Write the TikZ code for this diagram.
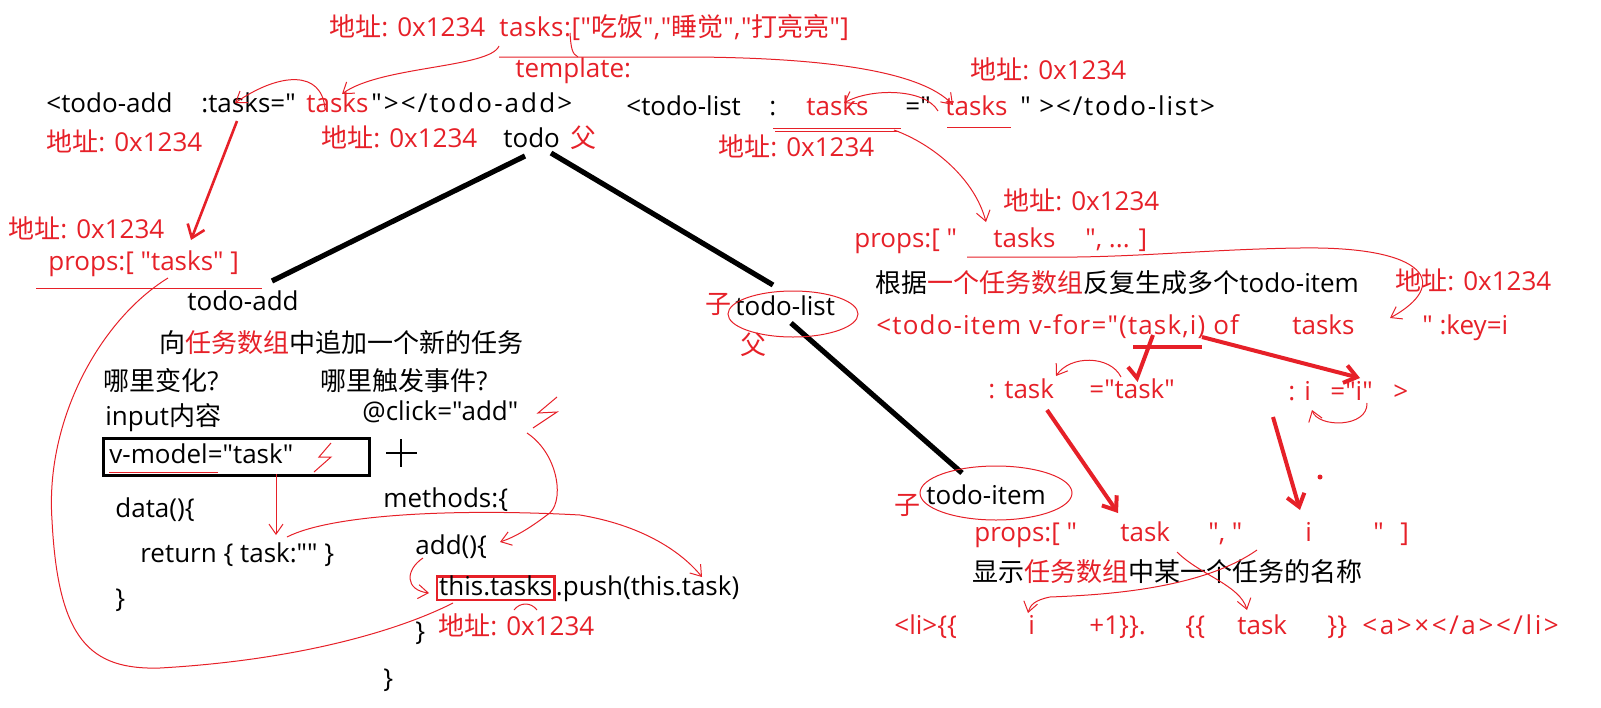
\documentclass[tikz,border=0pt]{standalone}
\usepackage{fontspec}
\setmainfont{Open Sans}[Ligatures=TeXOff]
\newfontfamily\cjk{Noto Sans CJK SC}[Ligatures=TeXOff]
\usetikzlibrary{arrows.meta,calc}

\definecolor{memred}{RGB}{230,32,40}
\newcommand\addrtxt{{\cjk 地址}: 0x1234}
\newcommand\spaced[1]{\addfontfeature{LetterSpace=#1}}

\begin{document}
\begin{tikzpicture}[x=0.5pt, y=-0.5pt,
  txt/.style={anchor=west, inner sep=0pt, text height=0.85em, text depth=0.12em,
              font=\fontsize{13pt}{15pt}\selectfont},
  rtxt/.style={txt, text=memred},
  addr/.style={rtxt},
  scribble/.style={draw=memred, line width=0.5pt},
  link/.style={scribble, -{Straight Barb[length=5pt, width=7pt]}},
  hotarrow/.style={draw=memred, line width=2pt, -{Straight Barb[length=6pt, width=9pt]}},
  treeline/.style={line width=2.6pt, black}
]
\useasboundingbox (0,0) rectangle (1601,707);

% top: the parent data
\node[addr] (addrTop)  at (329,29)  {\addrtxt};
\node[rtxt] (tasksArr) at (499,29)  {\spaced{2}tasks:["{\cjk 吃饭}","{\cjk 睡觉}","{\cjk 打亮亮}"]};
\node[rtxt] (tmpl)     at (515,70)  {template:};

\node[txt]  (addOpen)  at (46,105)  {<todo-add};
\node[txt]  (addProp)  at (201,105) {:tasks="};
\node[rtxt] (addVal)   at (306,105) {tasks};
\node[txt]  (addClose) at (371,105) {\spaced{8}"></todo-add>};

\node[addr] (addrL)    at (46,144)  {\addrtxt};
\node[addr] (addrM)    at (321,140) {\addrtxt};
\node[txt]  (todo)     at (503,140) {todo};
\node[rtxt] (fu)       at (570,140) {\cjk 父};

\node[txt]  (listOpen)  at (626,108)  {<todo-list};
\node[txt]  (listColon) at (769,108)  {:};
\node[rtxt] (listProp)  at (806,108)  {tasks};
\node[txt]  (listEq)    at (905,108)  {="};
\node[rtxt] (listVal)   at (945,108)  {tasks};
\node[txt]  (listClose) at (1020,108) {\spaced{7}" ></todo-list>};
\node[addr] (addrR1)    at (970,72)   {\addrtxt};
\node[addr] (addrR2)    at (718,149)  {\addrtxt};

% todo-list side
\node[addr] (addrR3)     at (1003,203) {\addrtxt};
\node[rtxt] (propsOpen)  at (854,240)  {props:[ "};
\node[rtxt] (propsTasks) at (993,240)  {tasks};
\node[rtxt] (propsRest)  at (1085,240) {", ... ]};
\node[txt]  (genNote)    at (875,285)  {{\cjk 根据\textcolor{memred}{一个任务数组}反复生成多个}todo-item};
\node[addr] (addrR4)     at (1395,283) {\addrtxt};
\node[rtxt] (forOpen)    at (876,327)  {\spaced{4.5}<todo-item v-for="(task,i) of};
\node[rtxt] (forTasks)   at (1292,327) {tasks};
\node[rtxt] (forKey)     at (1422,327) {" :key=i};
\node[rtxt] (bindTask)   at (988,391)  {: task};
\node[rtxt] (bindTaskV)  at (1089,391) {="task"};
\node[rtxt] (bindI)      at (1288,393) {: i};
\node[rtxt] (bindIV)     at (1330,393) {="i"};
\node[rtxt] (bindEnd)    at (1393,393) {>};

\node[rtxt] (ziList)   at (705,306) {\cjk 子};
\node[txt]  (todoList) at (735,308) {todo-list};
\node[rtxt] (fuList)   at (740,347) {\cjk 父};

% todo-item side
\node[rtxt] (ziItem)    at (894,507)  {\cjk 子};
\node[txt]  (todoItem)  at (926,497)  {todo-item};
\node[rtxt] (itemProps) at (974,534)  {props:[ "};
\node[rtxt] (itemTask)  at (1120,534) {task};
\node[rtxt] (itemSep)   at (1208,534) {", "};
\node[rtxt] (itemI)     at (1305,534) {i};
\node[rtxt] (itemQ)     at (1373,534) {"};
\node[rtxt] (itemEnd)   at (1400,534) {]};
\node[txt]  (showNote)  at (972,574)  {\cjk 显示\textcolor{memred}{任务数组}中某一个任务的名称};
\node[rtxt] (liOpen)    at (894,627)  {<li>\{\{};
\node[rtxt] (liI)       at (1028,627) {i};
\node[rtxt] (liPlus)    at (1089,627) {+1\}\}.};
\node[rtxt] (liOpenB)   at (1185,627) {\{\{};
\node[rtxt] (liTask)    at (1237,627) {task};
\node[rtxt] (liCloseB)  at (1327,627) {\}\}};
\node[rtxt] (liA)       at (1362,627) {\spaced{10}<a>×</a></li>};

% todo-add side
\node[addr] (addrL2)    at (8,231)   {\addrtxt};
\node[rtxt] (propsL)    at (48,263)  {props:[ "tasks" ]};
\node[txt]  (todoAdd)   at (187,303) {todo-add};
\node[txt]  (addNote)   at (159,345) {\cjk 向\textcolor{memred}{任务数组}中追加一个新的任务};
\node[txt]  (whereChg)  at (103,383) {{\cjk 哪里变化}?};
\node[txt]  (whereEvt)  at (320,383) {{\cjk 哪里触发事件}?};
\node[txt]  (inputNote) at (105,418) {input{\cjk 内容}};
\node[txt]  (clickNote) at (362,413) {@click="add"};
\node[draw, line width=1.5pt, inner sep=0pt, minimum width=133pt, minimum height=18.5pt,
      anchor=north west] (vBox) at (102,437) {};
\node[txt]  (vmodel)    at (109,456) {v-model="task"};
\node[txt]  (dataOpen)  at (115,510) {data()\{};
\node[txt]  (ret)       at (140,555) {return \{ task:"" \}};
\node[txt]  (dataClose) at (115,600) {\}};
\node[txt]  (methods)   at (383,500) {methods:\{};
\node[txt]  (addFn)     at (415,547) {add()\{};
\node[txt, draw=memred, line width=1.2pt, inner xsep=1pt, inner ysep=1pt] (thisTasks) at (436,588) {this.tasks};
\node[txt]  (push)      at (thisTasks.east) {.push(this.task)};
\node[txt]  (fnClose)   at (415,633) {\}};
\node[addr] (addrL3)    at (438,628) {\addrtxt};
\node[txt]  (methClose) at (383,680) {\}};

% the plus between input and method
\draw[line width=1.3pt] (386,453) -- (417,453) (401,439) -- (401,467);

% component tree
\coordinate (todoSW) at (525,156);
\coordinate (todoSE) at (551,153);
\coordinate (addTop) at (272,281);
\coordinate (listNE) at (773,285);
\coordinate (listS)  at (791,323);
\coordinate (itemN)  at (962,473);
\draw[treeline] (todoSW) -- (addTop);
\draw[treeline] (todoSE) -- (listNE);
\draw[treeline] (listS) -- (itemN);
\draw[scribble] (793,314) ellipse [x radius=65, y radius=23];
\draw[scribble] (996,493) ellipse [x radius=76, y radius=27];

% passing tasks down
\draw[scribble] (570,33) .. controls (571,48) and (572,54) .. (578,57);
\draw[link] (499,57) -- (695,57) .. controls (820,58) and (920,70) .. (953,105);
\draw[link] (499,46) .. controls (490,68) and (380,66) .. (342,94);
\draw[link] (325,109) .. controls (322,70) and (280,72) .. (235,103);
\draw[hotarrow, line width=1.3pt] (237,121) -- (191,240);
\draw[link] (938,111) .. controls (925,88) and (870,88) .. (844,103);
\draw[scribble] (773,128) -- (901,128);
\draw[scribble] (775,131) -- (899,131);
\draw[scribble] (947,127) -- (1011,127);
\draw[link] (894,130) .. controls (935,145) and (975,180) .. (986,222);
\draw[link] (967,257) -- (1077,257) .. controls (1150,256) and (1220,249) .. (1300,248)
  .. controls (1430,246) and (1450,285) .. (1390,318);

% v-for
\draw[draw=memred, line width=2pt] (1133,347) -- (1202,347);
\draw[draw=memred, line width=2pt] (1128,367) -- (1137,378) -- (1153,335);
\draw[hotarrow] (1202,337) -- (1360,378);
\draw[link] (1121,377) .. controls (1110,355) and (1070,355) .. (1056,376);
\draw[link] (1367,403) .. controls (1368,428) and (1318,428) .. (1312,410);
\draw[hotarrow] (1047,410) -- (1118,513);
\draw[hotarrow] (1273,417) -- (1300,510);
\fill[memred] (1320,477) circle [radius=2.5];
\draw[link] (1177,552) .. controls (1200,575) and (1240,585) .. (1247,610);
\draw[link] (1257,550) .. controls (1200,590) and (1100,595) .. (1050,597)
  .. controls (1035,600) and (1030,605) .. (1028,613);

% todo-add internals
\draw[scribble] (36,288) -- (262,288);
\draw[scribble] (168,278) .. controls (100,320) and (45,420) .. (52,520)
  .. controls (58,640) and (90,670) .. (160,668)
  .. controls (300,660) and (400,630) .. (453,603);
\draw[scribble] (109,472) -- (218,472);
\draw[scribble] (331,443) -- (319,457) -- (331,457) -- (314,472);
\draw[link] (276,474) -- (276,535);
\draw[link] (287,537) .. controls (330,515) and (450,508) .. (580,515)
  .. controls (640,525) and (680,550) .. (702,577);
\draw[scribble] (557,397) -- (538,413) -- (557,412) -- (533,428);
\draw[link] (527,433) .. controls (560,455) and (565,505) .. (547,515)
  .. controls (530,528) and (515,537) .. (500,542);
\draw[link] (423,558) .. controls (405,570) and (405,590) .. (429,593);
\draw[scribble] (514,610) .. controls (520,602) and (531,602) .. (537,610);

\end{tikzpicture}
\end{document}
